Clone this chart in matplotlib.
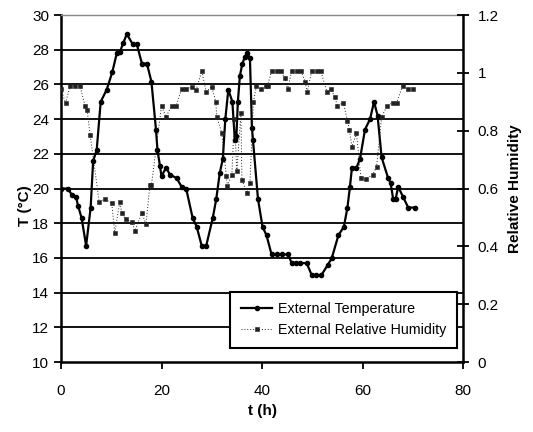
import matplotlib
matplotlib.use("Agg")
import matplotlib.pyplot as plt
from matplotlib.ticker import FuncFormatter

plt.rcParams['font.family'] = ['Liberation Sans', 'DejaVu Sans']

# External temperature (t in h, T in °C)
temp_t = [0, 1.4, 2.2, 3.0, 3.4, 4.1, 5.0, 5.9, 6.4, 7.1, 7.9, 9.1, 10.2, 11.1, 11.7,
          12.4, 13.1, 14.3, 15.1, 16.1, 17.1, 18.0, 18.9, 19.2, 19.7, 20.0, 20.9, 21.7,
          23.0, 24.0, 24.9, 26.2, 27.0, 28.0, 28.9, 30.2, 30.9, 31.6, 32.2, 32.7, 33.3,
          34.1, 34.6, 34.9, 35.2, 35.6, 36.1, 36.6, 37.1, 37.6, 38.0, 38.2, 39.2, 40.1,
          40.9, 41.9, 42.9, 43.9, 45.2, 45.9, 46.8, 47.6, 48.9, 49.9, 50.7, 51.8, 53.1,
          53.9, 55.2, 56.3, 57.0, 57.5, 57.9, 58.8, 59.5, 60.5, 61.5, 62.3, 63.0, 63.8,
          65.1, 65.6, 66.1, 66.6, 67.1, 68.1, 69.1, 70.4]
temp_T = [20.0, 20.0, 19.6, 19.5, 19.0, 18.3, 16.7, 18.9, 21.6, 22.2, 25.0, 25.7, 26.7, 27.8, 27.85,
          28.4, 28.9, 28.3, 28.3, 27.2, 27.2, 26.15, 23.4, 22.2, 21.3, 20.7, 21.2, 20.8,
          20.6, 20.1, 20.0, 18.3, 17.8, 16.7, 16.7, 18.3, 19.4, 20.9, 21.7, 24.0, 25.7,
          25.0, 22.8, 23.0, 25.0, 26.5, 27.2, 27.6, 27.8, 27.5, 23.5, 22.8, 19.4, 17.8,
          17.3, 16.2, 16.2, 16.2, 16.2, 15.7, 15.7, 15.7, 15.7, 15.0, 15.0, 15.0, 15.6,
          16.0, 17.3, 17.8, 18.9, 20.1, 21.2, 21.2, 21.7, 23.4, 24.0, 25.0, 24.2, 21.8,
          20.6, 20.3, 19.4, 19.4, 20.1, 19.5, 18.9, 18.9]

# External relative humidity
rh_t = [0, 0.9, 1.8, 2.8, 3.8, 4.8, 5.2, 5.8, 7.6, 8.8, 10.1, 10.7, 11.7, 12.1, 12.9,
        14.1, 14.7, 16.1, 16.9, 17.7, 18.0, 20.0, 20.9, 22.0, 22.9, 24.0, 24.9, 26.0,
        26.9, 28.0, 28.9, 30.0, 30.8, 31.0, 32.0, 32.9, 33.1, 34.0, 34.5, 35.0, 35.8,
        36.0, 37.0, 37.6, 38.3, 38.9, 39.9, 40.8, 41.1, 41.9, 42.9, 43.7, 44.6, 45.1,
        45.9, 46.9, 47.8, 48.6, 49.0, 49.9, 50.9, 51.7, 52.9, 53.7, 54.5, 55.0, 56.2,
        57.0, 57.4, 57.9, 58.8, 59.7, 60.6, 62.0, 62.8, 63.8, 64.9, 66.0, 66.8, 68.0,
        69.1, 70.1]
rh_v = [0.943, 0.895, 0.954, 0.954, 0.954, 0.885, 0.871, 0.785, 0.554, 0.563, 0.549, 0.447,
        0.554, 0.514, 0.493, 0.485, 0.454, 0.516, 0.476, 0.612, 0.612, 0.885, 0.848, 0.885,
        0.885, 0.944, 0.944, 0.952, 0.94, 1.006, 0.935, 0.952, 0.90, 0.848, 0.791, 0.643,
        0.61, 0.647, 0.84, 0.66, 0.86, 0.63, 0.585, 0.62, 0.90, 0.955, 0.943, 0.955, 0.955,
        1.006, 1.006, 1.006, 0.981, 0.943, 1.006, 1.006, 1.006, 0.969, 0.935, 1.006, 1.006,
        1.006, 0.935, 0.943, 0.917, 0.885, 0.897, 0.834, 0.802, 0.745, 0.791, 0.635, 0.632,
        0.647, 0.675, 0.848, 0.885, 0.897, 0.897, 0.955, 0.943, 0.943]

x_ticks = [0, 20, 40, 60, 80]
y_ticks = list(range(10, 31, 2))
rh_ticks = [0, 0.2, 0.4, 0.6, 0.8, 1.0, 1.2]

fig = plt.figure(figsize=(5.33, 4.32), dpi=100)
ax = fig.add_axes([61/533, 70/432, 402/533, 347/432])
ax2 = ax.twinx()

ax.set_xlim(0, 80)
ax.set_ylim(10, 30)
ax2.set_ylim(0, 1.2)

# gridlines
for yv in y_ticks[1:-1]:
    ax.axhline(yv, color='black', lw=1.3, zorder=1)

l1, = ax.plot(temp_t, temp_T, color='black', lw=1.6, marker='o', markersize=3.0,
              zorder=3, label='External Temperature')
l2, = ax2.plot(rh_t, rh_v, color='#222222', lw=0.7, ls=(0, (1, 2)), marker='s',
               markersize=2.2, markeredgewidth=0.4, zorder=3,
               label='External Relative Humidity')

ax.set_xticks(x_ticks)
ax.set_yticks(y_ticks)
ax2.set_yticks(rh_ticks)
ax2.yaxis.set_major_formatter(FuncFormatter(lambda v, p: f"{v:g}"))

for a in (ax, ax2):
    a.tick_params(labelsize=11, width=1.3, length=5, color='black')
ax.tick_params(axis='y', direction='out')
ax.tick_params(axis='x', direction='out', pad=11)
ax2.tick_params(axis='y', direction='inout', length=9, pad=6)

for s in ('left', 'bottom'):
    ax.spines[s].set_linewidth(1.8)
ax.spines['right'].set_visible(False)
ax.spines['top'].set_color('#888888')
ax.spines['top'].set_linewidth(1.0)
ax2.spines['left'].set_visible(False)
ax2.spines['bottom'].set_visible(False)
ax2.spines['top'].set_visible(False)
ax2.spines['right'].set_linewidth(1.8)

ax.set_xlabel('t (h)', fontsize=11, fontweight='bold', labelpad=4)
ax.set_ylabel('T (°C)', fontsize=11, fontweight='bold')
ax.yaxis.set_label_coords(-0.071, 0.452)
ax2.set_ylabel('Relative Humidity', fontsize=11, fontweight='bold', labelpad=7)

leg = ax2.legend(handles=[l1, l2], loc='lower right', bbox_to_anchor=(0.9855, 0.040),
                 fontsize=10.3, frameon=True, fancybox=False, framealpha=1,
                 edgecolor='black', handlelength=2.2, borderpad=0.75, labelspacing=0.5,
                 handletextpad=0.4, borderaxespad=0)
leg.get_frame().set_linewidth(1.5)

fig.savefig('out.png', dpi=100)
